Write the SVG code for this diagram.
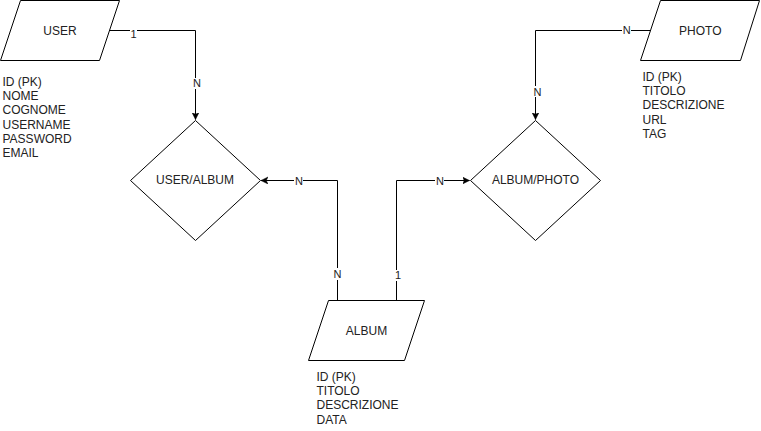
<svg xmlns="http://www.w3.org/2000/svg" width="761" height="431" viewBox="0 0 761 431">
<style>
.shape{fill:#fff;stroke:#000;stroke-width:1}
.edge{fill:none;stroke:#000;stroke-width:1}
.lbl{font-family:"Liberation Sans",Arial,sans-serif;font-size:12px;fill:#222;text-anchor:middle}
.attr{font-family:"Liberation Sans",Arial,sans-serif;font-size:12px;fill:#222}
.el{font-family:"Liberation Sans",Arial,sans-serif;font-size:11px;fill:#222;text-anchor:middle}
.bg{fill:#fff}
</style>
<defs>
<marker id="arr" markerWidth="8" markerHeight="8" refX="7" refY="3.5" orient="auto" markerUnits="userSpaceOnUse">
<path d="M0,0 L7,3.5 L0,7 L1.8,3.5 z" fill="#000" stroke="#000" stroke-width="0.5"/>
</marker>
</defs>
<rect width="761" height="431" fill="#fff"/>
<g id="connectors">
<path class="edge" d="M110,30.5 H195.5 V119.5" marker-end="url(#arr)"/>
<path class="edge" d="M337.5,300.5 V180.5 H261" marker-end="url(#arr)"/>
<path class="edge" d="M396.5,300.5 V180.5 H469.5" marker-end="url(#arr)"/>
<path class="edge" d="M650,30.5 H535.5 V119.5" marker-end="url(#arr)"/>
<rect class="bg" x="130" y="28" width="7" height="10"/>
<text class="el" x="133.5" y="37.5">1</text>
<rect class="bg" x="193" y="78" width="8" height="11"/>
<text class="el" x="197" y="87.3">N</text>
<rect class="bg" x="294" y="176" width="9" height="11"/>
<text class="el" x="299" y="185.3">N</text>
<rect class="bg" x="333" y="268" width="9" height="12"/>
<text class="el" x="337.5" y="278">N</text>
<rect class="bg" x="394" y="270" width="8" height="11"/>
<text class="el" x="398" y="279.3">1</text>
<rect class="bg" x="435" y="176" width="9" height="11"/>
<text class="el" x="440" y="185.3">N</text>
<rect class="bg" x="622" y="26" width="9" height="10"/>
<text class="el" x="626.7" y="34.3">N</text>
<rect class="bg" x="533" y="86" width="9" height="11"/>
<text class="el" x="537.5" y="96">N</text>
</g>
<g id="user">
<polygon class="shape" points="20.5,0.5 119.5,0.5 99.5,60.5 0.5,60.5"/>
<text class="lbl" x="60" y="34.5">USER</text>
<text class="attr" x="2.5" y="86"><tspan x="2.5">ID (PK)</tspan><tspan x="2.5" dy="14.2">NOME</tspan><tspan x="2.5" dy="14.2">COGNOME</tspan><tspan x="2.5" dy="14.2">USERNAME</tspan><tspan x="2.5" dy="14.2">PASSWORD</tspan><tspan x="2.5" dy="14.2">EMAIL</tspan></text>
</g>
<g id="user_album">
<polygon class="shape" points="195.5,120.5 260.5,180.5 195.5,240.5 130.5,180.5"/>
<text class="lbl" x="195" y="184.3">USER/ALBUM</text>
</g>
<g id="album_photo">
<polygon class="shape" points="535.5,120.5 600.5,180.5 535.5,240.5 470.5,180.5"/>
<text class="lbl" x="535.5" y="184.3">ALBUM/PHOTO</text>
</g>
<g id="photo">
<polygon class="shape" points="660.5,0.5 759.5,0.5 740.5,60.5 640.5,60.5"/>
<text class="lbl" x="700.3" y="34.5">PHOTO</text>
<text class="attr" x="642.5" y="81"><tspan x="642.5">ID (PK)</tspan><tspan x="642.5" dy="14.2">TITOLO</tspan><tspan x="642.5" dy="14.2">DESCRIZIONE</tspan><tspan x="642.5" dy="14.2">URL</tspan><tspan x="642.5" dy="14.2">TAG</tspan></text>
</g>
<g id="album">
<polygon class="shape" points="328.5,300.5 424.5,300.5 404.5,360.5 308.5,360.5"/>
<text class="lbl" x="366.5" y="335">ALBUM</text>
<text class="attr" x="316.5" y="381"><tspan x="316.5">ID (PK)</tspan><tspan x="316.5" dy="14.2">TITOLO</tspan><tspan x="316.5" dy="14.2">DESCRIZIONE</tspan><tspan x="316.5" dy="14.2">DATA</tspan></text>
</g>
</svg>
